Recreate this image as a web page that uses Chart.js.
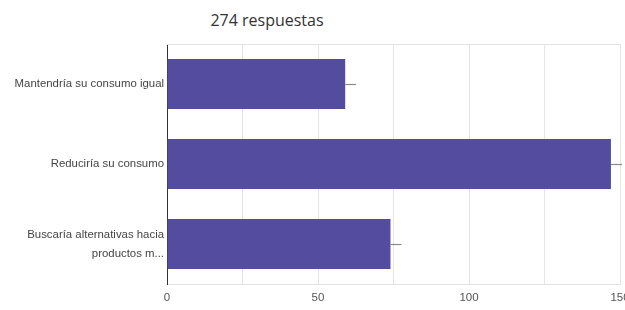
<!DOCTYPE html>
<html>
<head>
<meta charset="utf-8">
<script src="https://cdn.jsdelivr.net/npm/chart.js@4/dist/chart.umd.min.js"></script>
<style>
html,body{margin:0;padding:0;background:#fff;}
#wrap{position:relative;width:625px;height:310px;overflow:hidden;background:#fff;}
#title{position:absolute;left:0;top:9px;width:534px;text-align:center;font:16px 'Open Sans',sans-serif;color:#333;}
#cv{position:absolute;left:0;top:0;}
</style>
</head>
<body>
<div id="wrap">
<div id="title">274 respuestas</div>
<canvas id="cv" width="640" height="310"></canvas>
</div>
<script>
const categories = [
  "Mantendría su consumo igual",
  "Reduciría su consumo",
  ["Buscaría alternativas hacia", "productos m..."]
];
const values = [59, 147, 74];
const xTickLabels = [0, 50, 100, 150];

const barColor = "#544c9e";

const framePlugin = {
  id: "frame",
  beforeDatasetsDraw(chart) {
    const a = chart.chartArea, ctx = chart.ctx;
    ctx.save();
    ctx.strokeStyle = "#e4e4e4";
    ctx.lineWidth = 1;
    ctx.beginPath();
    ctx.moveTo(a.left, Math.round(a.top) + 0.5);
    ctx.lineTo(a.right, Math.round(a.top) + 0.5);
    ctx.stroke();
    ctx.restore();
  },
  afterDatasetsDraw(chart) {
    const ctx = chart.ctx;
    const meta = chart.getDatasetMeta(0);
    ctx.save();
    ctx.strokeStyle = "#8a8a8a";
    ctx.lineWidth = 1.2;
    meta.data.forEach(bar => {
      const y = Math.round(bar.y) + 0.5;
      ctx.beginPath();
      ctx.moveTo(bar.x, y);
      ctx.lineTo(bar.x + 11, y);
      ctx.stroke();
    });
    ctx.restore();
  }
};

new Chart(document.getElementById("cv"), {
  type: "bar",
  data: {
    labels: categories,
    datasets: [{
      data: values,
      backgroundColor: barColor,
      borderWidth: 0,
      barPercentage: 0.625,
      categoryPercentage: 1
    }]
  },
  options: {
    indexAxis: "y",
    responsive: false,
    animation: false,
    layout: { padding: { top: 44, right: 20, left: 0, bottom: 0 } },
    plugins: { legend: { display: false }, tooltip: { enabled: false }, title: { display: false } },
    scales: {
      x: {
        min: 0, max: 150,
        ticks: {
          stepSize: 25,
          autoSkip: false,
          maxRotation: 0,
          padding: 7,
          color: "#555",
          font: { family: "'Liberation Sans', Arial, sans-serif", size: 11.5 },
          callback: v => xTickLabels.includes(v) ? v : ""
        },
        grid: { color: "#e4e4e4", drawTicks: false },
        border: { display: true, color: "#e4e4e4" },
        afterFit: s => { s.height = 26; }
      },
      y: {
        ticks: {
          padding: 3,
          color: "#444",
          font: { family: "'Liberation Sans', Arial, sans-serif", size: 11.4, lineHeight: 1.65 }
        },
        grid: { display: false, drawTicks: false },
        border: { display: true, color: "#333", width: 1 },
        afterFit: s => { s.width = 167; }
      }
    }
  },
  plugins: [framePlugin]
});
</script>
</body>
</html>
